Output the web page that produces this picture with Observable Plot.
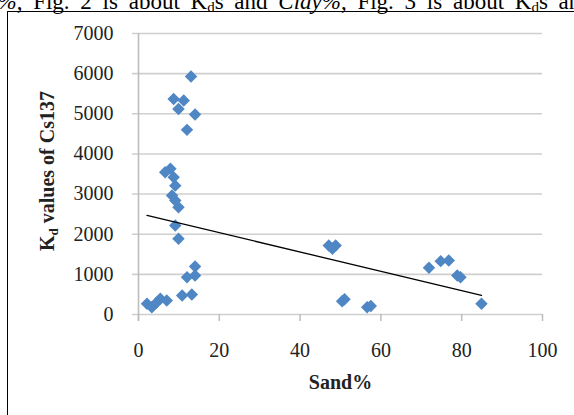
<!DOCTYPE html>
<html>
<head>
<meta charset="utf-8">
<script src="https://cdn.jsdelivr.net/npm/d3@7"></script>
<script src="https://cdn.jsdelivr.net/npm/@observablehq/plot@0.6"></script>
<style>
  html, body { margin: 0; padding: 0; background: #fff; }
  #wrap { position: relative; width: 574px; height: 415px; overflow: hidden; font-family: "Liberation Serif", "Times New Roman", serif; }
  #head { position: absolute; left: -14px; top: -10px; font-size: 23px; line-height: 23px; word-spacing: 5px; white-space: nowrap; color: #000; }
  #head sub { font-size: 15px; line-height: 0; vertical-align: -3px; }
  #box { position: absolute; left: 7px; top: 11px; width: 620px; height: 500px; border-left: 1.5px solid #000; border-top: 1.5px solid #000; }
  #chart { position: absolute; left: 0; top: 0; }
  #chart svg text { font-family: "Liberation Serif", "Times New Roman", serif; }
</style>
</head>
<body>
<div id="wrap">
  <div id="head"><i>a%</i>, Fig. 2 is about K<sub>d</sub>s and <i>Clay%</i>, Fig. 3 is about K<sub>d</sub>s and <i>Silt%</i></div>
  <div id="box"></div>
  <div id="chart"></div>
</div>
<script>
// Data
const sand = [13, 8.7, 11.2, 9.9, 14, 12, 7.9, 6.6, 8.7, 9.1, 8.3, 9.1, 9.9, 9.1, 9.9,
              14, 12, 14, 10.8, 13.2, 2.1, 3.3, 5.4, 7, 4.5,
              47.1, 48.8, 48, 50.4, 51, 56.6, 57.5, 71.9, 74.8, 76.8, 78.9, 79.7, 84.9];
const kd   = [5930, 5370, 5330, 5120, 4980, 4600, 3630, 3545, 3420, 3210, 2965, 2840, 2673, 2217, 1886,
              1196, 930, 970, 473, 498, 266, 182, 391, 349, 300,
              1719, 1720, 1637, 331, 380, 182, 210, 1163, 1329, 1345, 971, 930, 266];
const trendSand = [2.1, 84.9];
const trendKd = [2470, 475];
const xTicks = [0, 20, 40, 60, 80, 100];
const yTicks = [0, 1000, 2000, 3000, 4000, 5000, 6000, 7000];
const xTitle = "Sand%";
const yTitle = "Kd values of Cs137";

const points = sand.map((s, i) => ({sand: s, kd: kd[i]}));
const trend = trendSand.map((s, i) => ({sand: s, kd: trendKd[i]}));
const serif = '"Liberation Serif", "Times New Roman", serif';

const plot = Plot.plot({
  width: 574,
  height: 415,
  marginLeft: 138,
  marginRight: 32,
  marginTop: 33,
  marginBottom: 101,
  style: { fontFamily: serif, fontSize: "20px", background: "transparent", color: "#222" },
  x: { domain: [0, 100] },
  y: { domain: [0, 7000] },
  marks: [
    Plot.ruleY(yTicks, { stroke: "#cfcfcf", strokeWidth: 1.6, insetLeft: -6 }),
    Plot.ruleX([0], { stroke: "#bdbdbd", strokeWidth: 1.6, insetBottom: -7 }),
    Plot.axisX({ ticks: xTicks, tickFormat: d => String(d), tickSize: 7, tickPadding: 21, stroke: "#bdbdbd", strokeWidth: 1.5, fill: "#222", label: null, fontSize: 20, fontFamily: serif }),
    Plot.axisY({ ticks: yTicks, tickFormat: d => String(d), tickSize: 0, tickPadding: 25, fill: "#222", label: null, fontSize: 20, fontFamily: serif }),
    Plot.dot(points, { x: "sand", y: "kd", symbol: "diamond2", r: 5.6, fill: "#4f87c5", stroke: "none" }),
    Plot.line(trend, { x: "sand", y: "kd", stroke: "#000", strokeWidth: 1.3 }),
    Plot.text([xTitle], { frameAnchor: "bottom", dy: 74, fontWeight: "bold", fontSize: 20, fontFamily: serif, fill: "#222" }),
    Plot.text([yTitle], { frameAnchor: "left", textAnchor: "middle", dx: -91, dy: -3, rotate: -90, fontWeight: "bold", fontSize: 20, fontFamily: serif, fill: "#222" })
  ]
});

// Subscript "d" in the y title
d3.select(plot).selectAll("text").each(function() {
  if (this.textContent === yTitle) {
    const t = d3.select(this);
    t.text(null);
    t.append("tspan").text("K");
    t.append("tspan").attr("font-size", 13).attr("dy", 4).text("d");
    t.append("tspan").attr("dy", -4).text(" values of Cs137");
  }
});

document.getElementById("chart").appendChild(plot);
</script>
</body>
</html>
